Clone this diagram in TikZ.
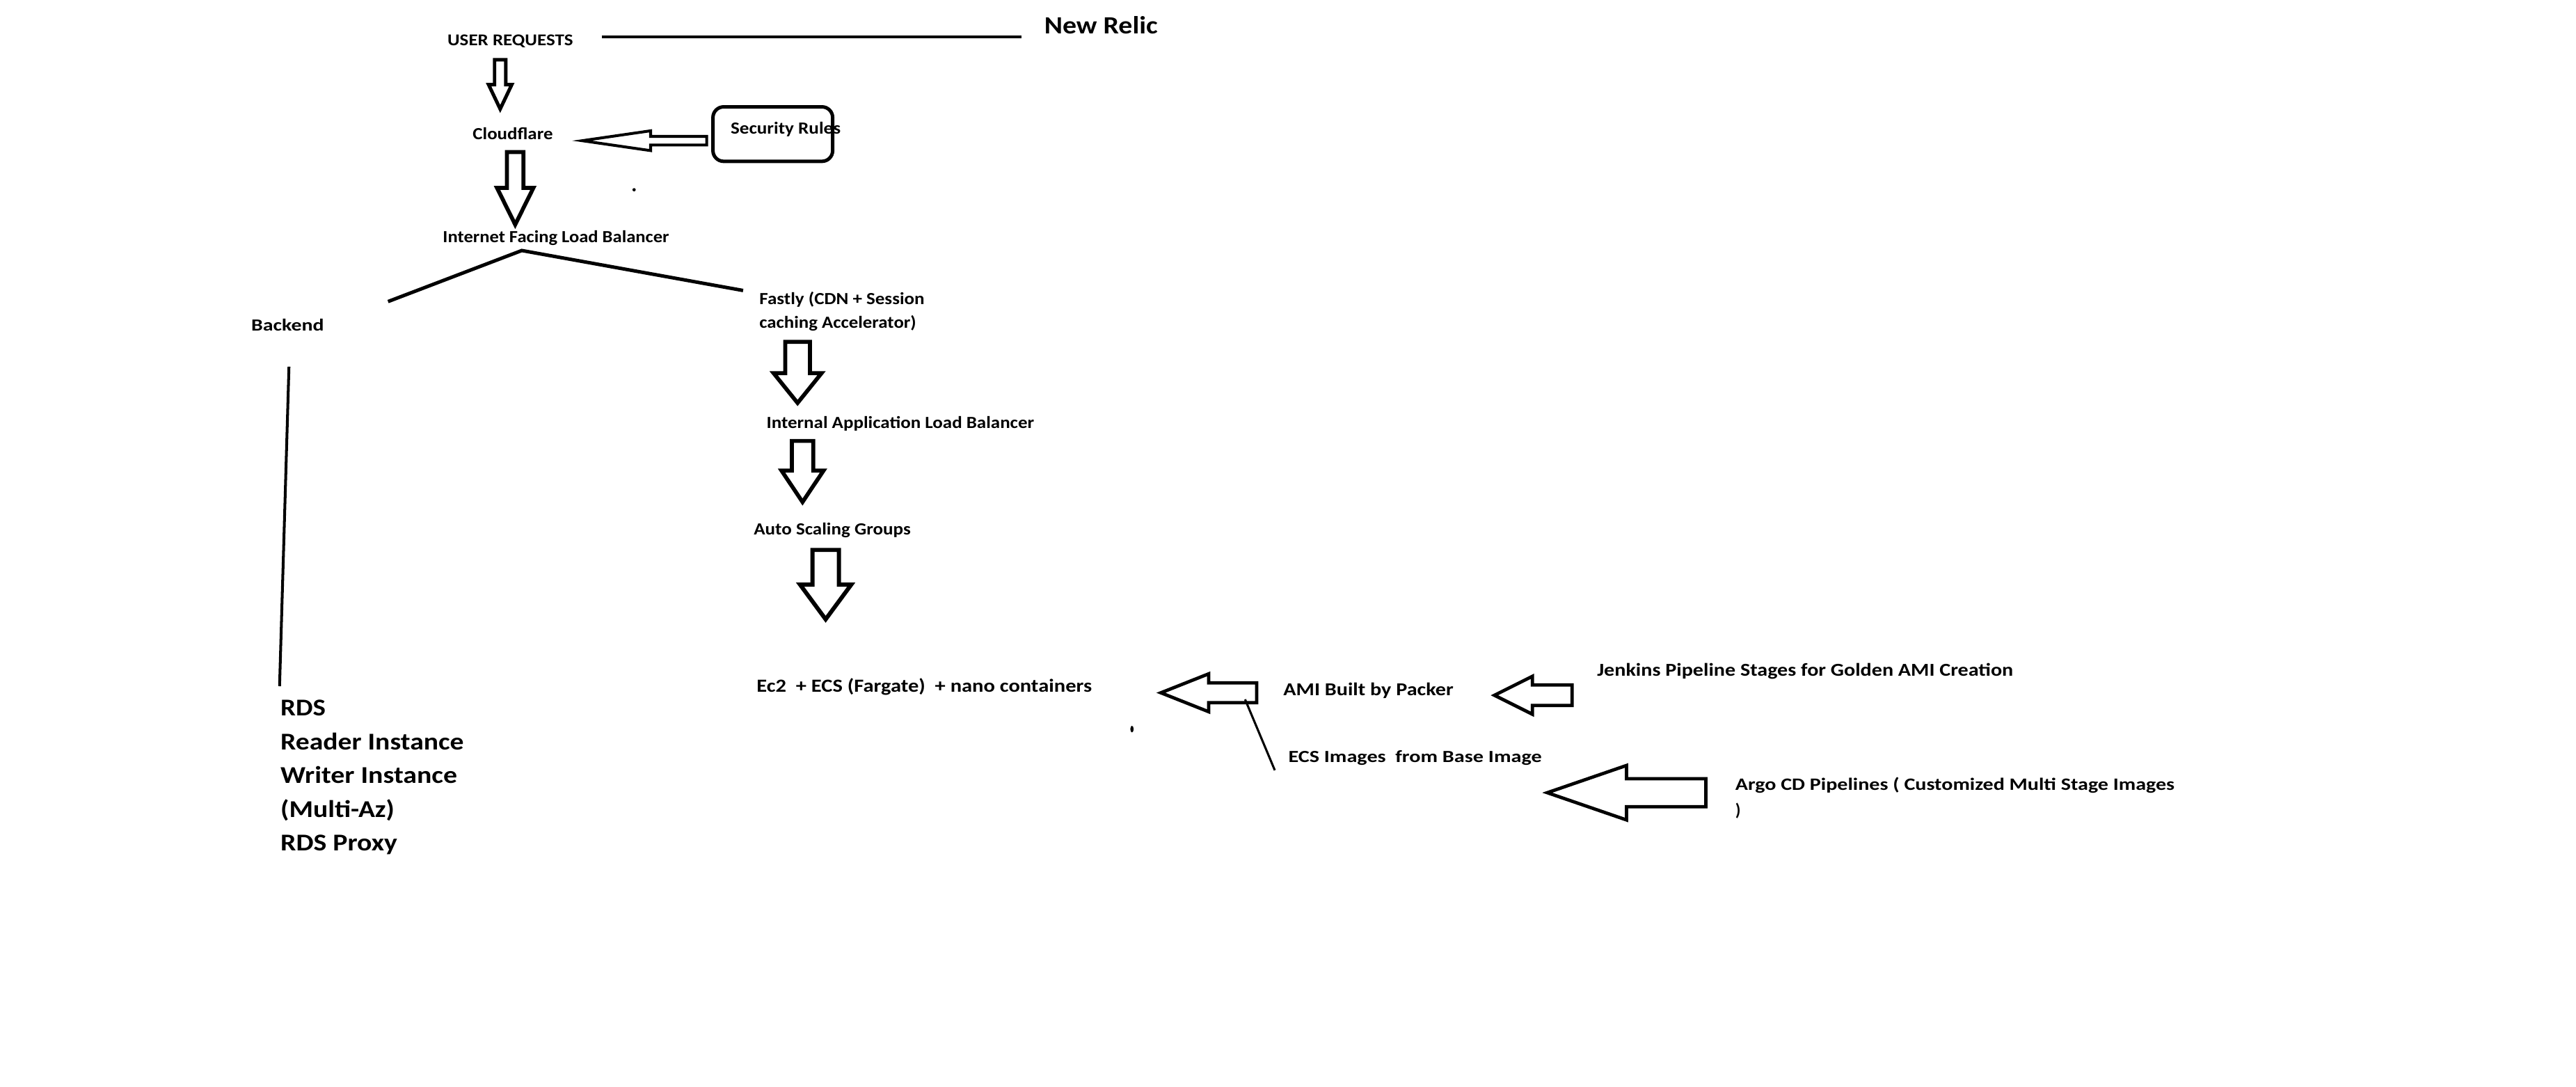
\documentclass[tikz,border=0pt]{standalone}
\usepackage{fontspec}
\usepackage{graphicx}
\setmainfont{Carlito}

% squeeze or stretch a label to a given width
\newlength\labw
\newcommand{\fitw}[2]{\settowidth{\labw}{#2}\pgfmathsetmacro\labr{#1/\labw}\scalebox{\labr}[1]{#2}}

% hollow block arrows, drawn from plain numbers
\newcommand{\fatdown}[7][]{%
  \draw[fat,#1] (#2-#6,#3) -- (#2+#6,#3) -- (#2+#6,#4) -- (#2+#7,#4)
    -- (#2,#5) -- (#2-#7,#4) -- (#2-#6,#4) -- cycle;}
\newcommand{\fatleft}[7][]{%
  \draw[fat,#1] (#5,#2-#6) -- (#4,#2-#6) -- (#4,#2-#7) -- (#3,#2)
    -- (#4,#2+#7) -- (#4,#2+#6) -- (#5,#2+#6) -- cycle;}

\tikzset{
  lbl/.style={inner sep=0pt, anchor=base west, font=\bfseries\fontsize{10.3}{14.2}\selectfont},
  bigl/.style={inner sep=0pt, anchor=base west, align=left, font=\bfseries\fontsize{14.6}{20.4}\selectfont},
  rulebox/.style={draw, rounded corners=6.5pt, line width=2.1pt, minimum width=72.5pt, minimum height=33pt, inner sep=0pt},
  fat/.style={draw, line width=2.4pt, line join=miter},
  wire/.style={draw, line width=2pt},
}

\begin{document}
\begin{tikzpicture}[x=1pt, y=-1pt]
    \useasboundingbox (0,0) rectangle (1560,658.2);

    % top
    \node[lbl, font=\bfseries\fontsize{10}{12}\selectfont] (ureq) at (270.8,27.8) {\fitw{76}{USER REQUESTS}};
    \node[lbl, font=\bfseries\fontsize{15}{18}\selectfont] (relic) at (632.2,20.4) {\fitw{68.7}{New Relic}};
    \coordinate (relicl) at (364.5,22.4);
    \coordinate (relicr) at (618.5,22.4);
    \draw[wire, line width=1.7pt] (relicl) -- (relicr);

    \node[lbl] (cf) at (286.1,84.4) {\fitw{48.5}{Cloudflare}};
    \node[rulebox] (secbox) at (468,81.2) {};
    \node[lbl] (sec) at (442.3,81.3) {\fitw{66.6}{Security Rules}};

    \fatdown[line width=2.1pt]{302.9}{36.2}{51.3}{66}{3.4}{7}
    \fatleft[line width=1.7pt]{85.2}{352.5}{394}{428}{2.6}{6}
    \fatdown[line width=2.4pt]{312}{92.1}{113.8}{136}{5}{11}

    \fill (384,114.9) circle (1pt);

    \node[lbl] (iflb) at (268,146.7) {\fitw{137}{Internet Facing Load Balancer}};
    \coordinate (split) at (316,151.7);
    \coordinate (bkend) at (235,182.6);
    \coordinate (fsend) at (450,175.9);
    \draw[wire, line width=2.1pt] (bkend) -- (split) -- (fsend);

    % backend side
    \node[lbl] (back) at (152,200.2) {\fitw{44}{Backend}};
    \coordinate (backtop) at (175,222);
    \coordinate (backbot) at (169.3,415.5);
    \draw[wire, line width=1.7pt] (backtop) -- (backbot);

    % base of a multi-line node sits on its last line
    \node[bigl] (rds) at (169.7,515.2) {\fitw{27.3}{RDS}\\ \fitw{111}{Reader Instance}\\
    \fitw{107}{Writer Instance}\\ \fitw{69}{(Multi-Az)}\\ \fitw{70.7}{RDS Proxy}};

    % application side
    \node[lbl, align=left] (fastly) at (459.7,198.5) {\fitw{100}{Fastly (CDN + Session}\\ \fitw{95}{caching Accelerator)}};
    \fatdown{483}{207}{226}{244}{7.5}{14.5}

    \node[lbl] (ilb) at (464,259.5) {\fitw{162}{Internal Application Load Balancer}};
    \fatdown{486}{267}{285}{304}{6.5}{12.7}

    \node[lbl] (asg) at (456.3,323.8) {\fitw{95}{Auto Scaling Groups}};
    \fatdown[line width=2.5pt]{500}{333}{354}{375}{8}{15.5}

    \node[lbl, font=\bfseries\fontsize{11.2}{14}\selectfont] (ec2) at (458,419) {\fitw{203}{Ec2~~+ ECS (Fargate)~~+ nano containers}};
    \fatleft[line width=2pt]{419.5}{703}{732}{761}{6}{11.5}
    \fill (685.5,441.5) ellipse (1pt and 2pt);

    % image pipelines
    \node[lbl, font=\bfseries\fontsize{11}{14}\selectfont] (ami) at (777,421) {\fitw{103}{AMI Built by Packer}};
    \fatleft[line width=2pt]{421}{905}{928}{952}{6.2}{11.5}
    \node[lbl, font=\bfseries\fontsize{11}{14}\selectfont] (jenkins) at (967,409.5) {\fitw{252}{Jenkins Pipeline Stages for Golden AMI Creation}};

    \coordinate (amistem) at (754,423.5);
    \coordinate (ecsend) at (772,466.4);
    \draw[wire, line width=1.3pt] (amistem) -- (ecsend);
    \node[lbl] (ecsimg) at (780,461.5) {\fitw{153.5}{ECS Images~~from Base Image}};

    \fatleft[line width=2pt]{480}{937}{985}{1033}{8.5}{16.5}
    \node[lbl, align=left, font=\bfseries\fontsize{10.5}{15.7}\selectfont] (argo) at (1050.7,494) {\fitw{266}{Argo CD Pipelines ( Customized Multi Stage Images}\\ )};

\end{tikzpicture}
\end{document}
